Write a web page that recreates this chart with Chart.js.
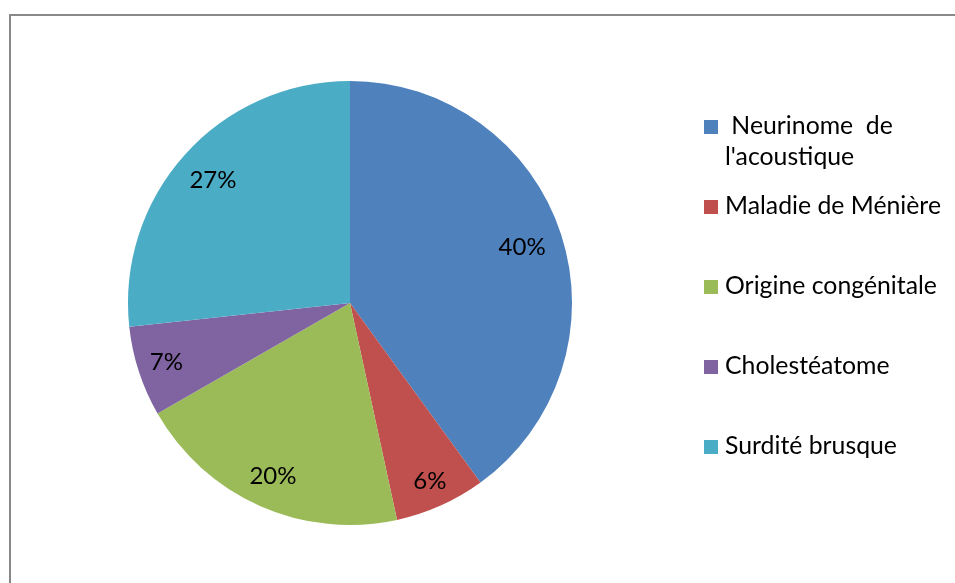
<!DOCTYPE html>
<html>
<head>
<meta charset="utf-8">
<script src="https://cdn.jsdelivr.net/npm/chart.js@4.4.1/dist/chart.umd.min.js"></script>
<style>
  html, body { margin: 0; padding: 0; background: #ffffff; }
  #wrap { position: relative; width: 955px; height: 583px; }
  canvas { display: block; }
</style>
</head>
<body>
<div id="wrap"><canvas id="c" width="955" height="583"></canvas></div>
<script>
const categories = [[" Neurinome  de", "l'acoustique"], "Maladie de Ménière", "Origine congénitale", "Cholestéatome", "Surdité brusque"];
const shares = [40.0, 6.6, 20.1, 6.6, 26.7];
const shareLabels = ["40%", "6%", "20%", "7%", "27%"];
const sliceColors = ["#4F81BD", "#C0504D", "#9BBB59", "#8064A2", "#4BACC6"];

const FONT = "Lato, 'Open Sans', sans-serif";

const framePlugin = {
  id: 'frame',
  beforeDraw(chart) {
    const ctx = chart.ctx;
    ctx.save();
    ctx.fillStyle = '#ffffff';
    ctx.fillRect(0, 0, chart.width, chart.height);
    ctx.strokeStyle = '#898989';
    ctx.lineWidth = 2;
    ctx.strokeRect(10, 15, 1000, 1000);
    ctx.restore();
  }
};

const sliceLabelPlugin = {
  id: 'sliceLabels',
  afterDatasetsDraw(chart, args, opts) {
    const ctx = chart.ctx;
    const meta = chart.getDatasetMeta(0);
    const radii = opts.radii || [];
    ctx.save();
    ctx.font = "24px " + FONT;
    ctx.fillStyle = '#000000';
    ctx.textAlign = 'center';
    ctx.textBaseline = 'middle';
    meta.data.forEach((arc, i) => {
      const p = arc.getProps(['x', 'y', 'startAngle', 'endAngle', 'outerRadius'], true);
      const mid = (p.startAngle + p.endAngle) / 2;
      const r = p.outerRadius * (radii[i] || 0.85);
      ctx.fillText(shareLabels[i], p.x + Math.cos(mid) * r, p.y + Math.sin(mid) * r);
    });
    ctx.restore();
  }
};

const legendPlugin = {
  id: 'sideLegend',
  afterDraw(chart) {
    const ctx = chart.ctx;
    ctx.save();
    ctx.font = "24.8px " + FONT;
    ctx.textAlign = 'left';
    ctx.textBaseline = 'alphabetic';
    const boxX = 704, textX = 725, firstBase = 134, step = 80, lineH = 31, box = 14;
    chart.data.labels.forEach((lab, i) => {
      const base = firstBase + step * i;
      ctx.fillStyle = sliceColors[i];
      ctx.fillRect(boxX, base - box, box, box);
      ctx.fillStyle = '#000000';
      const lines = Array.isArray(lab) ? lab : [lab];
      lines.forEach((t, j) => ctx.fillText(t, textX, base + j * lineH));
    });
    ctx.restore();
  }
};

new Chart(document.getElementById('c'), {
  type: 'pie',
  data: {
    labels: categories,
    datasets: [{
      data: shares,
      backgroundColor: sliceColors,
      borderWidth: 0
    }]
  },
  options: {
    responsive: false,
    animation: false,
    layout: { padding: { left: 128, right: 383, top: 81, bottom: 58 } },
    plugins: {
      legend: { display: false },
      tooltip: { enabled: false },
      title: { display: false },
      sliceLabels: { radii: [0.815, 0.88, 0.855, 0.87, 0.83] }
    }
  },
  plugins: [framePlugin, sliceLabelPlugin, legendPlugin]
});
</script>
</body>
</html>
